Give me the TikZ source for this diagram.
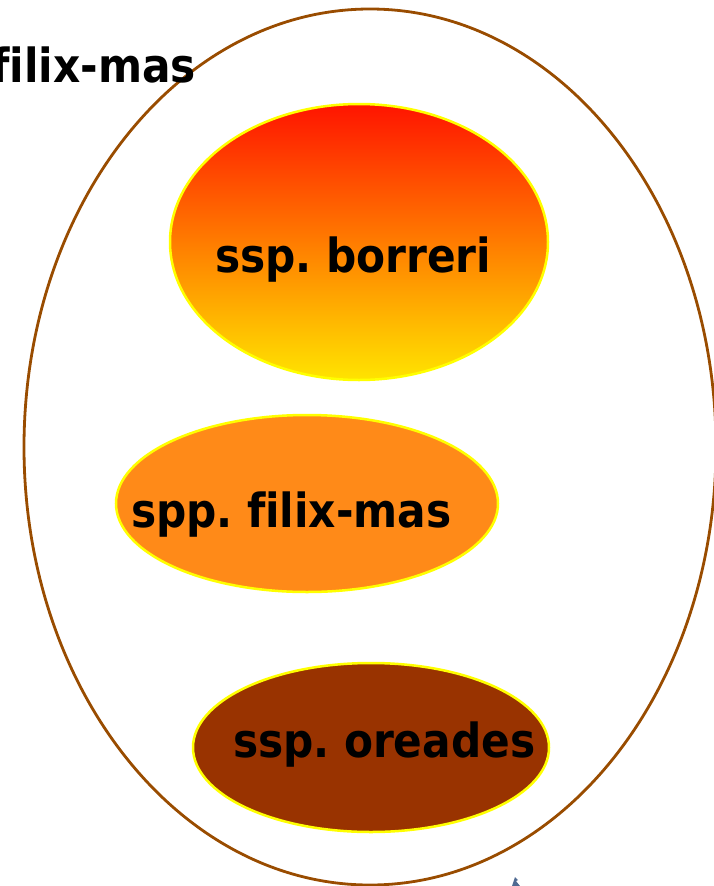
\documentclass[tikz,border=0pt]{standalone}
\usepackage{fontspec}
\setmainfont[Ligatures=NoCommon]{DejaVu Sans Condensed}
\usetikzlibrary{shapes.geometric}
\definecolor{outerbrown}{HTML}{994C00}
\definecolor{rimyellow}{HTML}{FFFF00}
\definecolor{topred}{HTML}{FF1400}
\definecolor{botyellow}{HTML}{FFE400}
\definecolor{midorange}{HTML}{FF8A18}
\definecolor{darkbrown}{HTML}{993300}
\definecolor{markblue}{HTML}{4F6A92}
\newcommand\mylblfont{\bfseries\fontsize{47}{55}\selectfont}
\newcommand\gap{\hspace{0.3em}}
\tikzset{
  blob/.style={ellipse, draw=rimyellow, line width=2.5pt, inner sep=0pt},
  lbl/.style={font=\mylblfont, text=black, inner sep=0pt, anchor=base west},
}
\begin{document}
\begin{tikzpicture}[x=1pt,y=-1pt]
\useasboundingbox (0,0) rectangle (713,886);
\node[ellipse, draw=outerbrown, line width=2.8pt, inner sep=0pt, minimum width=692pt, minimum height=876pt] (outer) at (370,447) {};
\node[blob, minimum width=378pt, minimum height=276pt, top color=topred, bottom color=botyellow, shading angle=0] (borreri) at (359,242) {};
\node[blob, minimum width=382pt, minimum height=177pt, fill=midorange] (filix) at (307,503.5) {};
\node[blob, minimum width=356pt, minimum height=169pt, fill=darkbrown] (oreades) at (371,747.5) {};
\node[lbl] (tborreri) at (215,272) {ssp.\gap borreri};
\node[lbl] (tfilix) at (131,527) {spp.\gap filix-mas};
\node[lbl] (toreades) at (233,757) {ssp.\gap oreades};
\node[lbl, anchor=base east] (title) at (196,82) {filix-mas};
\fill[markblue] (512,886) -- (515,877) -- (518,880) -- (516,881) -- (520,886) -- cycle;
\end{tikzpicture}
\end{document}
